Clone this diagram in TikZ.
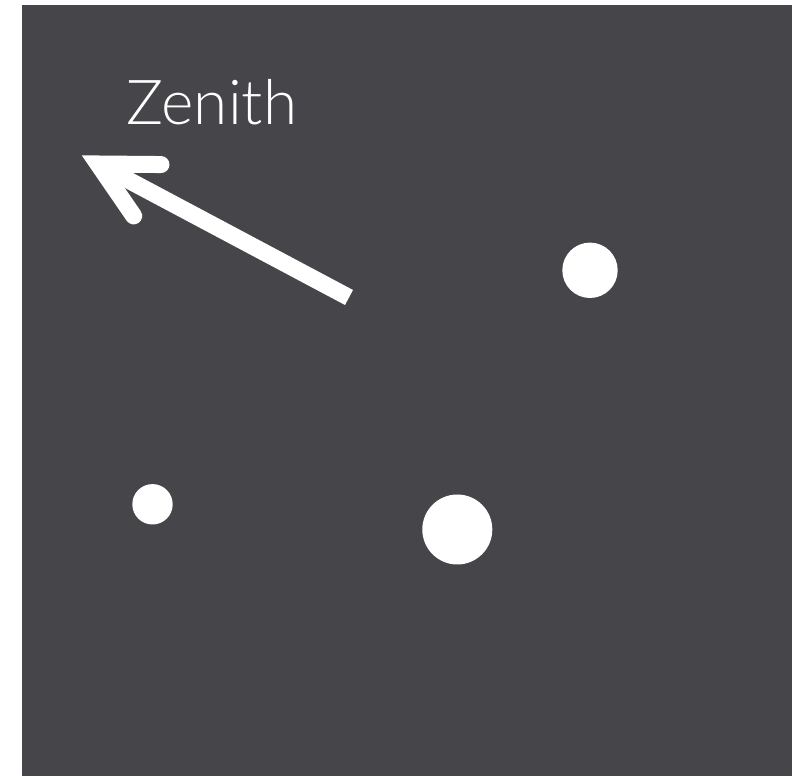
\documentclass[tikz,border=0pt]{standalone}
\usepackage{fontspec}
\usepackage{xcolor}
\usetikzlibrary{calc}
\newfontfamily\zenithfont{Lato Light}
\definecolor{slate}{RGB}{70,69,74}

\begin{document}
\begin{tikzpicture}[x=1pt, y=1pt,
  dot/.style={circle, fill=white, inner sep=0pt},
  arr/.style={white, line width=17pt},
  lbl/.style={text=white, font=\zenithfont\fontsize{62}{62}\selectfont,
              inner sep=0pt, anchor=base west}
]
\useasboundingbox (0,0) rectangle (792,776);
\fill[slate] (22,0) rectangle (792,771);

\node[lbl] (zen) at (126,651) {Zenith};

\coordinate (tip)  at (98,612);
\coordinate (tail) at (349,478.5);
\draw[arr, line cap=butt] (tail) -- (tip);
\draw[arr, line cap=round, line join=miter]
  ($(tip)!63pt!-27.5:(tail)$) -- (tip) -- ($(tip)!63pt!27.5:(tail)$);

\node[dot, minimum size=55.4pt] (star1) at (590,505.7) {};
\node[dot, minimum size=40.4pt] (star2) at (152.5,271.7) {};
\node[dot, minimum size=70pt]   (star3) at (457.3,246.5) {};
\end{tikzpicture}
\end{document}
